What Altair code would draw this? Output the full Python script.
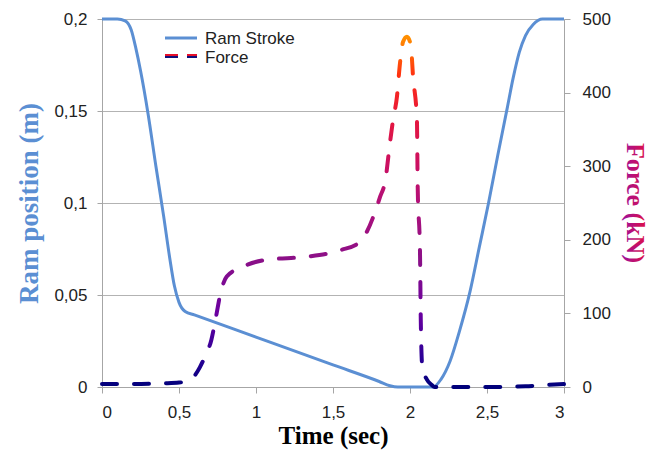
import altair as alt
import pandas as pd

# ---- data ----
ram_t = [0, 0.10, 0.15, 0.19, 0.22, 0.25, 0.30, 0.35, 0.40, 0.44, 0.47, 0.50, 0.54,
         0.60, 1.0, 1.5, 1.8, 1.87, 1.92, 2.15, 2.20, 2.26, 2.32, 2.39, 2.45, 2.51, 2.57,
         2.63, 2.67, 2.71, 2.75, 2.80, 2.86, 3.0]
ram_v = [0.2, 0.2, 0.199, 0.194, 0.184, 0.172, 0.148, 0.12, 0.093, 0.07, 0.055, 0.046, 0.041,
         0.0392, 0.0271, 0.012, 0.003, 0.0007, 0, 0, 0.004, 0.014, 0.03, 0.052, 0.076, 0.1, 0.126,
         0.151, 0.168, 0.182, 0.191, 0.197, 0.2, 0.2]

force_t = [0, 0.2, 0.4, 0.5, 0.55, 0.6, 0.636, 0.67, 0.71, 0.74, 0.77, 0.81, 0.9, 1.07, 1.33,
           1.55, 1.675, 1.72, 1.77, 1.805, 1.84, 1.87, 1.89, 1.915, 1.935, 1.955, 1.98, 2.005,
           2.02, 2.045, 2.05, 2.065, 2.07, 2.08, 2.11, 2.14, 2.16, 2.5, 2.75, 2.9, 3.0]
force_v = [4, 4, 5, 6, 8, 15, 27, 42, 64, 95, 128, 150, 162, 173, 177,
           186, 197, 211, 236, 258, 281, 332, 363, 394, 440, 469, 476, 465,
           421, 363, 272, 182, 91, 27, 10, 3, 0, 0, 1, 3, 4]

x_ticks = [0, 0.5, 1, 1.5, 2, 2.5, 3]
ram_ticks = [0, 0.05, 0.1, 0.15, 0.2]
force_ticks = [0, 100, 200, 300, 400, 500]

legend_labels = ["Ram Stroke", "Force"]
right_title = "Force (kN)"

ram_df = pd.DataFrame({"t": ram_t, "v": ram_v})
force_df = pd.DataFrame({"t": force_t, "f": force_v})
one = pd.DataFrame({"a": [0]})

LABEL_FONT = "Liberation Sans"
TITLE_FONT = "Liberation Serif"
GRAY = "#a6a6a6"
BLUE = "#5b8fd3"
TXT = "#222222"

comma = "replace(toString(datum.value), '.', ',')"
x_scale = alt.Scale(domain=[0, 3], nice=False)
x_axis = alt.Axis(values=x_ticks, labelExpr=comma, title="Time (sec)",
                  titleFont=TITLE_FONT, titleFontSize=25, titleFontWeight="bold",
                  titleColor="black", labelFont=LABEL_FONT, labelFontSize=17,
                  labelColor=TXT, tickColor=GRAY, domainColor=GRAY,
                  tickSize=6, labelPadding=11, titlePadding=3, grid=False)

ram = alt.Chart(ram_df).mark_line(color=BLUE, strokeWidth=3, interpolate="monotone").encode(
    x=alt.X("t:Q", scale=x_scale, axis=x_axis),
    y=alt.Y("v:Q", scale=alt.Scale(domain=[0, 0.2], nice=False),
            axis=alt.Axis(values=ram_ticks, labelExpr=comma, title="Ram position (m)",
                          titleFont=TITLE_FONT, titleFontSize=27, titleFontWeight="bold",
                          titleColor=BLUE, labelFont=LABEL_FONT, labelFontSize=17,
                          labelColor=TXT, tickColor=GRAY, domainColor=GRAY,
                          tickSize=5, labelPadding=10, titlePadding=10,
                          grid=True, gridColor="#b3b3b3", gridWidth=1))
)

grad = alt.LinearGradient(
    gradient="linear",
    stops=[
        alt.GradientStop(offset=0.0, color="#00007a"),
        alt.GradientStop(offset=0.08, color="#2a0096"),
        alt.GradientStop(offset=0.21, color="#6a00a0"),
        alt.GradientStop(offset=0.36, color="#8a1088"),
        alt.GradientStop(offset=0.52, color="#b0107a"),
        alt.GradientStop(offset=0.64, color="#cc1060"),
        alt.GradientStop(offset=0.78, color="#e8183a"),
        alt.GradientStop(offset=0.89, color="#ff3010"),
        alt.GradientStop(offset=1.0, color="#ff9000"),
    ],
    x1=0, y1=1, x2=0, y2=0,
)

force = alt.Chart(force_df).mark_line(stroke=grad, strokeWidth=4, strokeDash=[15, 17],
                                      strokeCap="round", interpolate="monotone").encode(
    x=alt.X("t:Q", scale=x_scale),
    y=alt.Y("f:Q", scale=alt.Scale(domain=[0, 500], nice=False),
            axis=alt.Axis(orient="right", values=force_ticks, title=None,
                          labelFont=LABEL_FONT, labelFontSize=17,
                          labelColor=TXT, tickColor=GRAY, domainColor=GRAY,
                          tickSize=6, labelPadding=12, grid=False))
)

title_grad = alt.LinearGradient(
    gradient="linear",
    stops=[
        alt.GradientStop(offset=0.0, color="#e8103a"),
        alt.GradientStop(offset=1.0, color="#9a10a0"),
    ],
    x1=0, y1=0, x2=0, y2=1,
)
right_t = alt.Chart(one).mark_text(text=right_title, font=TITLE_FONT, fontSize=26,
                                   fontWeight="bold", angle=90, align="center",
                                   baseline="middle", fill=title_grad).encode(
    x=alt.value(533), y=alt.value(184))

# ---- manual legend ----
leg_ram = alt.Chart(one).mark_rule(color=BLUE, strokeWidth=3).encode(
    x=alt.value(63), x2=alt.value(95), y=alt.value(19))
leg_force_r = alt.Chart(one).mark_rule(color="#e8102a", strokeWidth=2, strokeDash=[13, 9]).encode(
    x=alt.value(63), x2=alt.value(95), y=alt.value(36))
leg_force_b = alt.Chart(one).mark_rule(color="#10107a", strokeWidth=2, strokeDash=[13, 9]).encode(
    x=alt.value(63), x2=alt.value(95), y=alt.value(38))
leg_txt1 = alt.Chart(one).mark_text(text=legend_labels[0], font=LABEL_FONT, fontSize=17,
                                    align="left", baseline="middle", color=TXT).encode(
    x=alt.value(103), y=alt.value(20))
leg_txt2 = alt.Chart(one).mark_text(text=legend_labels[1], font=LABEL_FONT, fontSize=17,
                                    align="left", baseline="middle", color=TXT).encode(
    x=alt.value(103), y=alt.value(39))

chart = alt.layer(ram, force, right_t, leg_ram, leg_force_r, leg_force_b,
                  leg_txt1, leg_txt2).resolve_scale(
    y="independent"
).properties(
    width=462, height=368,
    autosize=alt.AutoSizeParams(type="none"),
    padding={"left": 102, "top": 19, "right": 94, "bottom": 65},
    background="white",
).configure_view(strokeWidth=0)

chart.save("out.html", embed_options={"renderer": "svg", "actions": False})
